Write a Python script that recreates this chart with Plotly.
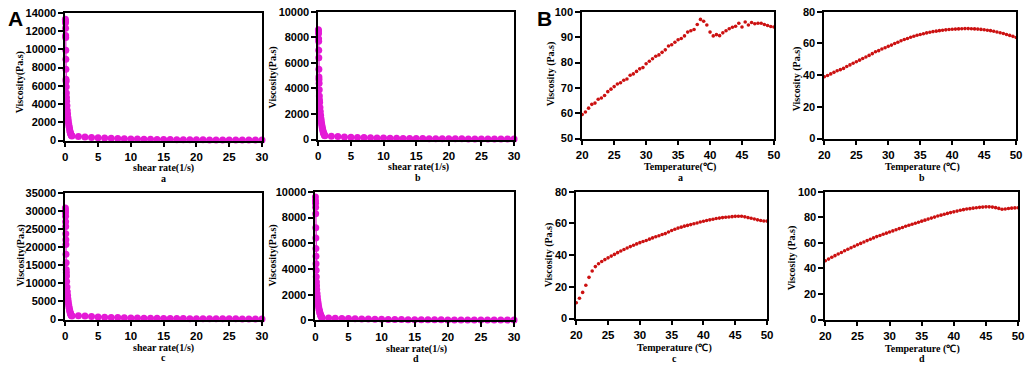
import plotly.graph_objects as go

W, H = 1031, 371

# ---------------- data ----------------
shear_rate = [0.01, 0.02, 0.03, 0.04, 0.05, 0.06, 0.07, 0.08, 0.09, 0.10,
              0.12, 0.14, 0.16, 0.18, 0.20, 0.25, 0.30, 0.35, 0.40, 0.45,
              0.50, 0.55, 0.60, 0.65, 0.70, 0.75, 0.80, 0.85, 0.90, 0.95, 1.0,
              2, 3, 4, 5, 6, 7, 8, 9, 10, 11, 12, 13, 14, 15, 16, 17, 18, 19, 20,
              21, 22, 23, 24, 25, 26, 27, 28, 29, 30]

visc_shear_a = [13300, 13100, 12900, 12300, 11500, 11300, 9900, 8900, 7800, 6700,
                6500, 5900, 5200, 4700, 4300, 3800, 3300, 2900, 2500, 2200,
                1900, 1650, 1450, 1250, 1050, 900, 780, 680, 600, 540, 500,
                450, 390, 340, 300, 265, 235, 210, 190, 170, 155, 140, 128, 118, 108, 100,
                93, 87, 81, 76, 71, 67, 63, 60, 57, 54, 51, 49, 47, 45]

visc_shear_b = [8600, 8500, 8300, 7900, 7700, 7000, 6400, 5500, 4900, 4700,
                4400, 3900, 3400, 3100, 2900, 2500, 2200, 1900, 1650, 1450,
                1250, 1100, 950, 820, 700, 600, 520, 450, 390, 340, 300,
                260, 230, 205, 185, 165, 150, 137, 125, 115, 106, 98, 91, 85, 80, 75,
                70, 66, 62, 59, 56, 53, 50, 48, 46, 44, 42, 40, 38, 37]

visc_shear_c = [30800, 30200, 29500, 28500, 27000, 25700, 23700, 22000, 20700, 18000,
                15700, 13800, 13000, 12000, 10500, 9000, 7700, 6600, 5700, 4900,
                4200, 3600, 3100, 2650, 2250, 1900, 1600, 1400, 1200, 1100, 1000,
                1050, 950, 850, 720, 650, 590, 540, 490, 450, 410, 380, 350, 325, 305, 285,
                270, 255, 242, 230, 220, 210, 201, 193, 186, 179, 173, 167, 162, 157]

visc_shear_d = [9600, 9300, 9100, 8800, 8300, 7200, 6400, 5600, 5000, 4400,
                3900, 3400, 3000, 2700, 2400, 2100, 1850, 1600, 1400, 1200,
                1050, 900, 780, 670, 570, 480, 400, 340, 290, 250, 220,
                200, 180, 160, 145, 130, 118, 107, 98, 90, 83, 77, 72, 67, 63, 59,
                56, 53, 50, 47, 45, 43, 41, 39, 37, 36, 34, 33, 32, 31]

temperature = [20.0, 20.5, 21.0, 21.5, 22.0, 22.5, 23.0, 23.5, 24.0, 24.5,
               25.0, 25.5, 26.0, 26.5, 27.0, 27.5, 28.0, 28.5, 29.0, 29.5,
               30.0, 30.5, 31.0, 31.5, 32.0, 32.5, 33.0, 33.5, 34.0, 34.5,
               35.0, 35.5, 36.0, 36.5, 37.0, 37.5, 38.0, 38.5, 39.0, 39.5,
               40.0, 40.5, 41.0, 41.5, 42.0, 42.5, 43.0, 43.5, 44.0, 44.5,
               45.0, 45.5, 46.0, 46.5, 47.0, 47.5, 48.0, 48.5, 49.0, 49.5, 50.0]

visc_temp_a = [59.5, 60.5, 62.0, 63.5, 64.0, 65.5, 66.0, 67.0, 68.5, 69.5,
               70.5, 71.5, 72.0, 73.0, 73.5, 75.0, 75.5, 76.5, 77.5, 78.0,
               79.5, 80.5, 81.5, 82.5, 83.0, 84.0, 85.0, 86.5, 87.0, 88.0,
               89.0, 89.5, 90.5, 92.0, 92.5, 93.0, 95.0, 97.0, 96.3, 94.8,
               92.0, 90.5, 91.0, 90.6, 91.7, 92.5, 93.3, 93.9, 94.3, 95.5,
               94.0, 96.0, 94.8, 95.8, 95.3, 95.5, 95.5, 95.0, 94.6, 94.2, 94.0]

visc_temp_b = [39.0, 39.8, 40.8, 41.8, 42.8, 43.5, 44.3, 45.5, 46.5, 47.5,
               48.5, 49.5, 50.5, 51.5, 52.5, 53.6, 54.8, 55.5, 56.5, 57.3,
               58.2, 59.0, 60.0, 60.8, 61.7, 62.5, 63.2, 63.9, 64.6, 65.2,
               65.7, 66.2, 66.7, 67.1, 67.5, 67.8, 68.1, 68.4, 68.6, 68.8,
               69.0, 69.1, 69.2, 69.3, 69.4, 69.4, 69.3, 69.2, 69.1, 68.9,
               68.7, 68.4, 68.1, 67.7, 67.3, 66.8, 66.3, 65.7, 65.1, 64.5, 63.8]

visc_temp_c = [10.0, 12.8, 16.5, 21.0, 26.0, 30.0, 32.8, 34.6, 36.0, 37.2,
               38.3, 39.4, 40.5, 41.6, 42.6, 43.6, 44.5, 45.4, 46.3, 47.1,
               47.9, 48.6, 49.3, 50.1, 50.9, 51.6, 52.3, 53.0, 53.6, 54.6,
               55.6, 56.4, 57.1, 57.7, 58.3, 58.8, 59.3, 59.8, 60.3, 60.9,
               61.4, 61.9, 62.3, 62.7, 63.1, 63.4, 63.7, 63.9, 64.1, 64.3,
               64.5, 64.6, 64.6, 64.2, 63.7, 63.3, 62.8, 62.3, 61.9, 61.6, 61.5]

visc_temp_d = [46.0, 47.3, 48.7, 50.0, 51.3, 52.5, 53.8, 55.0, 56.2, 57.4,
               58.5, 59.6, 60.7, 61.8, 62.9, 63.9, 64.9, 65.8, 66.7, 67.6,
               68.5, 69.4, 70.3, 71.2, 72.1, 73.0, 73.8, 74.6, 75.4, 76.2,
               77.0, 77.8, 78.6, 79.4, 80.2, 81.0, 81.7, 82.4, 83.1, 83.7,
               84.3, 84.9, 85.5, 86.0, 86.5, 86.8, 87.2, 87.5, 87.8, 88.0,
               88.2, 88.2, 88.0, 87.6, 87.0, 86.3, 86.5, 86.9, 87.2, 87.4, 87.5]

# ---------------- styling / layout ----------------
MAGENTA = "#E41AD6"
RED = "#CC1111"
SANS = "Liberation Sans, Arial, sans-serif"
SERIF = "Liberation Serif, Times New Roman, serif"

# (x0px, x1px, y0px(top), y1px(bottom))
boxes = {
    1: (60, 259, 7, 139),
    2: (316, 514, 6, 138),
    3: (583, 777, 6, 137),
    4: (828, 1022, 6, 137),
    5: (60, 259, 193, 324),
    6: (313, 514, 192, 325),
    7: (577, 770, 192, 323),
    8: (829, 1024, 192, 324),
}

panels = [
    (1, shear_rate, visc_shear_a, MAGENTA, 7, [0, 30], 5, [0, 14000], 2000),
    (2, shear_rate, visc_shear_b, MAGENTA, 7, [0, 30], 5, [0, 10000], 2000),
    (3, temperature, visc_temp_a, RED, 3.6, [20, 50], 5, [50, 100], 10),
    (4, temperature, visc_temp_b, RED, 3.6, [20, 50], 5, [0, 80], 20),
    (5, shear_rate, visc_shear_c, MAGENTA, 7, [0, 30], 5, [0, 35000], 5000),
    (6, shear_rate, visc_shear_d, MAGENTA, 7, [0, 30], 5, [0, 10000], 2000),
    (7, temperature, visc_temp_c, RED, 3.6, [20, 50], 5, [0, 80], 20),
    (8, temperature, visc_temp_d, RED, 3.6, [20, 50], 5, [0, 100], 20),
]

fig = go.Figure()
layout = dict(
    width=W, height=H,
    margin=dict(l=0, r=0, t=0, b=0),
    paper_bgcolor="white", plot_bgcolor="white",
    showlegend=False,
)

for idx, xs, ys, color, size, xr, xd, yr, yd in panels:
    xa = "x" if idx == 1 else f"x{idx}"
    ya = "y" if idx == 1 else f"y{idx}"
    magenta = color == MAGENTA
    fig.add_trace(go.Scatter(
        x=xs, y=ys, xaxis=xa, yaxis=ya,
        mode="lines+markers" if magenta else "markers",
        line=dict(color=color, width=1.5),
        marker=dict(color=color, size=size, line=dict(width=0)),
        cliponaxis=False,
    ))
    x0, x1, t, b = boxes[idx]
    common = dict(
        showline=True, linecolor="black", linewidth=1.8, mirror=True,
        showgrid=False, zeroline=False,
        ticks="outside", ticklen=5, tickwidth=1.5, tickcolor="black",
        tickformat="d",
    )
    layout["xaxis" if idx == 1 else f"xaxis{idx}"] = dict(
        domain=[x0 / W, x1 / W], range=xr, dtick=xd, tick0=xr[0],
        anchor=ya,
        tickfont=dict(family=SANS, size=11.5, color="black", weight="bold"),
        **common,
    )
    layout["yaxis" if idx == 1 else f"yaxis{idx}"] = dict(
        domain=[1 - b / H, 1 - t / H], range=yr, dtick=yd, tick0=yr[0],
        anchor=xa,
        tickfont=dict(family=SANS, size=11, color="black", weight="bold"),
        **common,
    )

fig.update_layout(**layout)

# ---------------- text annotations ----------------
def px_ann(text, x, y, size=10, family=SERIF, angle=0, bold=True):
    fig.add_annotation(
        text=f"<b>{text}</b>" if bold else text,
        x=x / W, y=1 - y / H, xref="paper", yref="paper",
        xanchor="center", yanchor="middle", showarrow=False,
        textangle=angle, font=dict(family=family, size=size, color="black"),
    )

# y titles
px_ann("Viscosity(Pa.s)", 15, 79, angle=-90)
px_ann("Viscosity(Pa.s)", 270, 74, angle=-90)
px_ann("Viscosity (Pa.s)", 551, 70, angle=-90)
px_ann("Viscosity (Pa.s)", 800, 75, angle=-90)
px_ann("Viscosity(Pa.s)", 15, 258, angle=-90)
px_ann("Viscosity(Pa.s)", 270, 258, angle=-90)
px_ann("Viscosity (Pa.s)", 549, 257, angle=-90)
px_ann("Viscosity (Pa.s)", 795, 260, angle=-90)

# x titles + sublabels
px_ann("shear rate(1/s)", 159, 167)
px_ann("a", 159, 178)
px_ann("shear rate(1/s)", 417, 166)
px_ann("b", 417, 177)
px_ann("Temperature(\u2103)", 682, 166)
px_ann("a", 682, 177)
px_ann("Temperature (\u2103)", 927, 166)
px_ann("b", 927, 177)
px_ann("shear rate(1/s)", 159, 353)
px_ann("c", 159, 363)
px_ann("shear rate(1/s)", 415, 354)
px_ann("d", 415, 364)
px_ann("Temperature (\u2103)", 676, 353)
px_ann("c", 676, 364)
px_ann("Temperature (\u2103)", 927, 354)
px_ann("d", 927, 364)

# panel letters
px_ann("A", 10, 13, size=21, family=SANS)
px_ann("B", 545, 13, size=21, family=SANS)

fig.write_html("out.html", config={"displayModeBar": False},
               post_script="document.body.style.margin='0';")
